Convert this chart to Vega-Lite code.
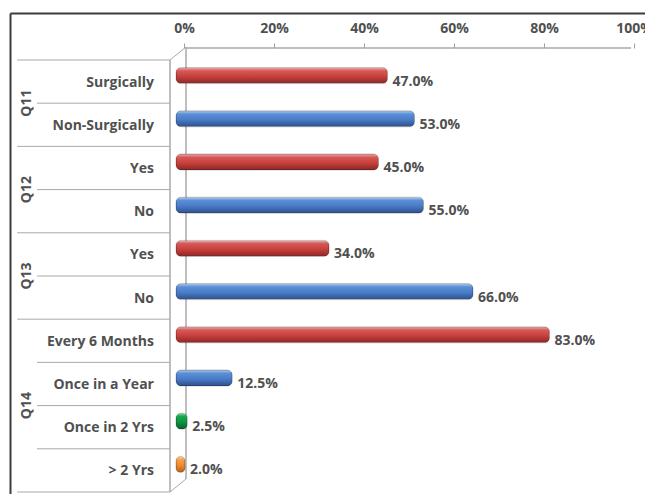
{
  "$schema": "https://vega.github.io/schema/vega-lite/v6.json",
  "usermeta": {"embedOptions": {"actions": false}},
  "width": 635,
  "height": 481,
  "autosize": "none",
  "padding": {"left": 10, "top": 13, "right": 0, "bottom": 0},
  "config": {
    "view": {"stroke": null},
    "font": "Open Sans"
  },
  "data": {
    "values": [
      {"group": "Q11", "id": "Q11 Surgically", "label": "Surgically", "value": 0.47},
      {"group": "Q11", "id": "Q11 Non-Surgically", "label": "Non-Surgically", "value": 0.53},
      {"group": "Q12", "id": "Q12 Yes", "label": "Yes", "value": 0.45},
      {"group": "Q12", "id": "Q12 No", "label": "No", "value": 0.55},
      {"group": "Q13", "id": "Q13 Yes", "label": "Yes", "value": 0.34},
      {"group": "Q13", "id": "Q13 No", "label": "No", "value": 0.66},
      {"group": "Q14", "id": "Q14 Every 6 Months", "label": "Every 6 Months", "value": 0.83},
      {"group": "Q14", "id": "Q14 Once in a Year", "label": "Once in a Year", "value": 0.125},
      {"group": "Q14", "id": "Q14 Once in 2 Yrs", "label": "Once in 2 Yrs", "value": 0.025},
      {"group": "Q14", "id": "Q14 > 2 Yrs", "label": "> 2 Yrs", "value": 0.02}
    ]
  },
  "transform": [
    {"window": [{"op": "row_number", "as": "k"}], "groupby": ["group"]},
    {"joinaggregate": [{"op": "count", "as": "n"}], "groupby": ["group"]}
  ],
  "resolve": {"axis": {"x": "independent"}},
  "layer": [
    {
      "mark": {"type": "bar", "opacity": 0},
      "encoding": {
        "x": {
          "field": "value",
          "type": "quantitative",
          "scale": {"domain": [-0.3689, 1.0422], "nice": false, "zero": false},
          "axis": {
            "orient": "top",
            "offset": -35,
            "values": [0, 0.2, 0.4, 0.6, 0.8, 1],
            "format": "%",
            "domain": false,
            "grid": false,
            "tickSize": 5,
            "tickColor": "#a0a0a0",
            "tickOffset": 8,
            "labelPadding": 8,
            "labelFontSize": 14,
            "labelFontWeight": "bold",
            "labelColor": "#505050",
            "title": null
          }
        },
        "y": {
          "field": "id",
          "type": "nominal",
          "axis": {"orient": "left", "domain": true, "domainColor": "#3c3c3c", "domainWidth": 2, "labels": false, "ticks": false, "grid": false, "title": null},
          "scale": {
            "domain": ["Q11 Surgically", "Q11 Non-Surgically", "Q12 Yes", "Q12 No", "Q13 Yes", "Q13 No", "Q14 Every 6 Months", "Q14 Once in a Year", "Q14 Once in 2 Yrs", "Q14 > 2 Yrs"],
            "paddingInner": 0,
            "paddingOuter": 0.567,
            "align": 0.959
          }
        }
      }
    },
    {
      "mark": {"type": "bar", "opacity": 0},
      "encoding": {
        "x": {
          "field": "value",
          "type": "quantitative",
          "axis": {"orient": "top", "offset": 0, "domain": true, "domainColor": "#3c3c3c", "domainWidth": 2, "labels": false, "ticks": false, "grid": false, "title": null}
        },
        "y": {"field": "id", "type": "nominal"}
      }
    },
    {
      "transform": [{"filter": "datum.k == 1"}],
      "mark": {"type": "rule", "color": "#a9a9a9", "strokeWidth": 1, "x2Offset": -6},
      "encoding": {
        "x": {"datum": -0.353, "type": "quantitative", "axis": null},
        "x2": {"datum": 0},
        "y": {"field": "id", "type": "nominal", "bandPosition": 0}
      }
    },
    {
      "transform": [{"filter": "datum.k > 1"}],
      "mark": {"type": "rule", "color": "#a9a9a9", "strokeWidth": 1, "x2Offset": -6},
      "encoding": {
        "x": {"datum": -0.309, "type": "quantitative", "axis": null},
        "x2": {"datum": 0},
        "y": {"field": "id", "type": "nominal", "bandPosition": 0}
      }
    },
    {
      "transform": [{"filter": "datum.k == datum.n && datum.group == 'Q14'"}],
      "mark": {"type": "rule", "color": "#a9a9a9", "strokeWidth": 1, "x2Offset": -6},
      "encoding": {
        "x": {"datum": -0.353, "type": "quantitative", "axis": null},
        "x2": {"datum": 0},
        "y": {"field": "id", "type": "nominal", "bandPosition": 1}
      }
    },
    {
      "mark": {"type": "bar", "fill": null, "stroke": "#a9a9a9", "strokeWidth": 1, "xOffset": -6, "x2Offset": -6},
      "encoding": {
        "x": {"datum": 0, "type": "quantitative", "axis": null},
        "x2": {"datum": 0},
        "y": {"field": "id", "type": "nominal"}
      }
    },
    {
      "mark": {"type": "bar", "fill": null, "stroke": "#a9a9a9", "strokeWidth": 1, "xOffset": 10, "x2Offset": 10, "yOffset": -13, "y2Offset": -13},
      "encoding": {
        "x": {"datum": 0, "type": "quantitative", "axis": null},
        "x2": {"datum": 0},
        "y": {"field": "id", "type": "nominal"}
      }
    },
    {
      "transform": [{"filter": "datum.group == 'Q11' && datum.k == 1"}],
      "mark": {"type": "rule", "color": "#a9a9a9", "strokeWidth": 1, "xOffset": -6, "x2Offset": 10, "y2Offset": -34.6},
      "encoding": {
        "x": {"datum": 0, "type": "quantitative", "axis": null},
        "x2": {"datum": 0},
        "y": {"field": "id", "type": "nominal", "bandPosition": 0},
        "y2": {"field": "id"}
      }
    },
    {
      "transform": [{"filter": "datum.k == datum.n && datum.group == 'Q14'"}],
      "mark": {"type": "rule", "color": "#a9a9a9", "strokeWidth": 1, "xOffset": -6, "x2Offset": 10, "y2Offset": 8.6},
      "encoding": {
        "x": {"datum": 0, "type": "quantitative", "axis": null},
        "x2": {"datum": 0},
        "y": {"field": "id", "type": "nominal", "bandPosition": 1},
        "y2": {"field": "id"}
      }
    },
    {
      "transform": [{"filter": "datum.group == 'Q11' && datum.k == 1"}],
      "mark": {"type": "rule", "color": "#a9a9a9", "strokeWidth": 1.5, "xOffset": 10, "x2Offset": 5, "yOffset": -12},
      "encoding": {
        "x": {"datum": 0, "type": "quantitative", "axis": null},
        "x2": {"datum": 1},
        "y": {"field": "id", "type": "nominal", "bandPosition": 0}
      }
    },
    {
      "transform": [{"filter": "datum.k == 1"}],
      "mark": {"type": "bar", "height": 16, "yOffset": -6, "cornerRadius": 5, "stroke": "rgba(0,0,0,0.25)", "strokeWidth": 0.8,
        "color": {"gradient": "linear", "x1": 0, "y1": 0, "x2": 0, "y2": 1, "stops": [{"offset": 0, "color": "#f0b4b2"}, {"offset": 0.2, "color": "#d65a57"}, {"offset": 0.55, "color": "#c8403d"}, {"offset": 1, "color": "#8a2826"}]}},
      "encoding": {
        "x": {"field": "value", "type": "quantitative", "axis": null},
        "y": {"field": "id", "type": "nominal"}
      }
    },
    {
      "transform": [{"filter": "datum.k == 2"}],
      "mark": {"type": "bar", "height": 16, "yOffset": -6, "cornerRadius": 5, "stroke": "rgba(0,0,0,0.25)", "strokeWidth": 0.8,
        "color": {"gradient": "linear", "x1": 0, "y1": 0, "x2": 0, "y2": 1, "stops": [{"offset": 0, "color": "#b5d0f2"}, {"offset": 0.2, "color": "#5b8fd6"}, {"offset": 0.55, "color": "#4a7cc8"}, {"offset": 1, "color": "#2d4f8a"}]}},
      "encoding": {
        "x": {"field": "value", "type": "quantitative", "axis": null},
        "y": {"field": "id", "type": "nominal"}
      }
    },
    {
      "transform": [{"filter": "datum.k == 3"}],
      "mark": {"type": "bar", "height": 16, "yOffset": -6, "cornerRadius": 5, "stroke": "rgba(0,0,0,0.25)", "strokeWidth": 0.8,
        "color": {"gradient": "linear", "x1": 0, "y1": 0, "x2": 0, "y2": 1, "stops": [{"offset": 0, "color": "#7fe0a0"}, {"offset": 0.2, "color": "#16a84c"}, {"offset": 0.55, "color": "#0d9441"}, {"offset": 1, "color": "#08612a"}]}},
      "encoding": {
        "x": {"field": "value", "type": "quantitative", "axis": null},
        "y": {"field": "id", "type": "nominal"}
      }
    },
    {
      "transform": [{"filter": "datum.k == 4"}],
      "mark": {"type": "bar", "height": 16, "yOffset": -6, "cornerRadius": 5, "stroke": "rgba(0,0,0,0.25)", "strokeWidth": 0.8,
        "color": {"gradient": "linear", "x1": 0, "y1": 0, "x2": 0, "y2": 1, "stops": [{"offset": 0, "color": "#ffd0a0"}, {"offset": 0.2, "color": "#f7a04a"}, {"offset": 0.55, "color": "#ef8c30"}, {"offset": 1, "color": "#b5611a"}]}},
      "encoding": {
        "x": {"field": "value", "type": "quantitative", "axis": null},
        "y": {"field": "id", "type": "nominal"}
      }
    },
    {
      "mark": {"type": "text", "align": "left", "baseline": "middle", "dx": 5, "fontSize": 14, "fontWeight": "bold", "color": "#505050"},
      "encoding": {
        "x": {"field": "value", "type": "quantitative", "axis": null},
        "y": {"field": "id", "type": "nominal"},
        "text": {"field": "value", "format": ".1%"}
      }
    },
    {
      "mark": {"type": "text", "align": "right", "baseline": "middle", "dy": 1, "fontSize": 14, "fontWeight": "bold", "color": "#505050"},
      "encoding": {
        "x": {"datum": -0.049, "type": "quantitative", "axis": null},
        "y": {"field": "id", "type": "nominal"},
        "text": {"field": "label"}
      }
    },
    {
      "transform": [{"filter": "datum.k == datum.n / 2 + 1"}],
      "mark": {"type": "text", "align": "center", "baseline": "middle", "angle": 270, "fontSize": 14, "fontWeight": "bold", "color": "#505050"},
      "encoding": {
        "x": {"datum": -0.331, "type": "quantitative", "axis": null},
        "y": {"field": "id", "type": "nominal", "bandPosition": 0},
        "text": {"field": "group"}
      }
    }
  ]
}
